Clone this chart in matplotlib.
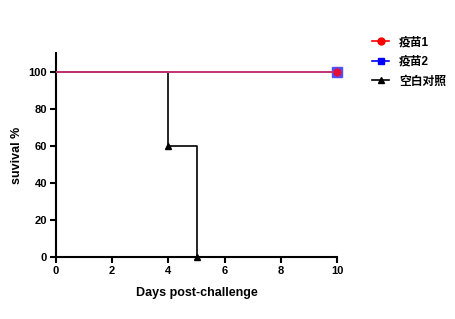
import matplotlib.pyplot as plt

plt.rcParams['font.family'] = ['Liberation Sans', 'Noto Sans CJK SC', 'DejaVu Sans']

# survival data
days_vac1 = [0, 10]
surv_vac1 = [100, 100]
days_vac2 = [0, 10]
surv_vac2 = [100, 100]
days_ctrl = [0, 4, 5]
surv_ctrl = [100, 60, 0]
labels = ["疫苗1", "疫苗2", "空白对照"]

fig = plt.figure(figsize=(4.55, 3.19), dpi=100)
ax = fig.add_axes([0.123, 0.194, 0.618, 0.640])

# control group: step curve with markers at event points
ax.step(days_ctrl, surv_ctrl, where="post", color="black", lw=1.2, zorder=2)
ax.plot(days_ctrl[1:], surv_ctrl[1:], "^", color="black", ms=5, zorder=3, clip_on=False)

# vaccine groups
ax.plot(days_vac2, surv_vac2, color="#4040ff", lw=1.2, zorder=3)
ax.plot(days_vac2[-1:], surv_vac2[-1:], "s", color="#5050ff", ms=7, zorder=4, clip_on=False)
ax.plot(days_vac1, surv_vac1, color="#d8305a", lw=1.2, zorder=4)
ax.plot(days_vac1[-1:], surv_vac1[-1:], "o", color="#e0103a", ms=5, zorder=5, clip_on=False)

ax.set_xlim(0, 10)
ax.set_ylim(0, 110)
ax.set_xticks([0, 2, 4, 6, 8, 10])
ax.set_yticks([0, 20, 40, 60, 80, 100])
for sp in ["top", "right"]:
    ax.spines[sp].set_visible(False)
for sp in ["left", "bottom"]:
    ax.spines[sp].set_linewidth(1.5)
ax.tick_params(width=1.5, length=4.5, labelsize=8, pad=2)
for t in ax.get_xticklabels() + ax.get_yticklabels():
    t.set_fontweight("bold")
ax.set_xlabel("Days post-challenge", fontsize=9, fontweight="bold", labelpad=8)
ax.set_ylabel("suvival %", fontsize=9, fontweight="bold", labelpad=4)

# legend
h1, = ax.plot([], [], "-o", color="red", ms=5, lw=1.2)
h2, = ax.plot([], [], "-s", color="blue", ms=5, lw=1.2)
h3, = ax.plot([], [], "-^", color="black", ms=5, lw=1.2)
ax.legend([h1, h2, h3], labels, loc="upper left", bbox_to_anchor=(1.085, 1.135),
          frameon=False, prop={"size": 8.5, "weight": "bold"},
          handlelength=1.5, handletextpad=0.8, labelspacing=0.65)

plt.savefig("out.png", dpi=100)
